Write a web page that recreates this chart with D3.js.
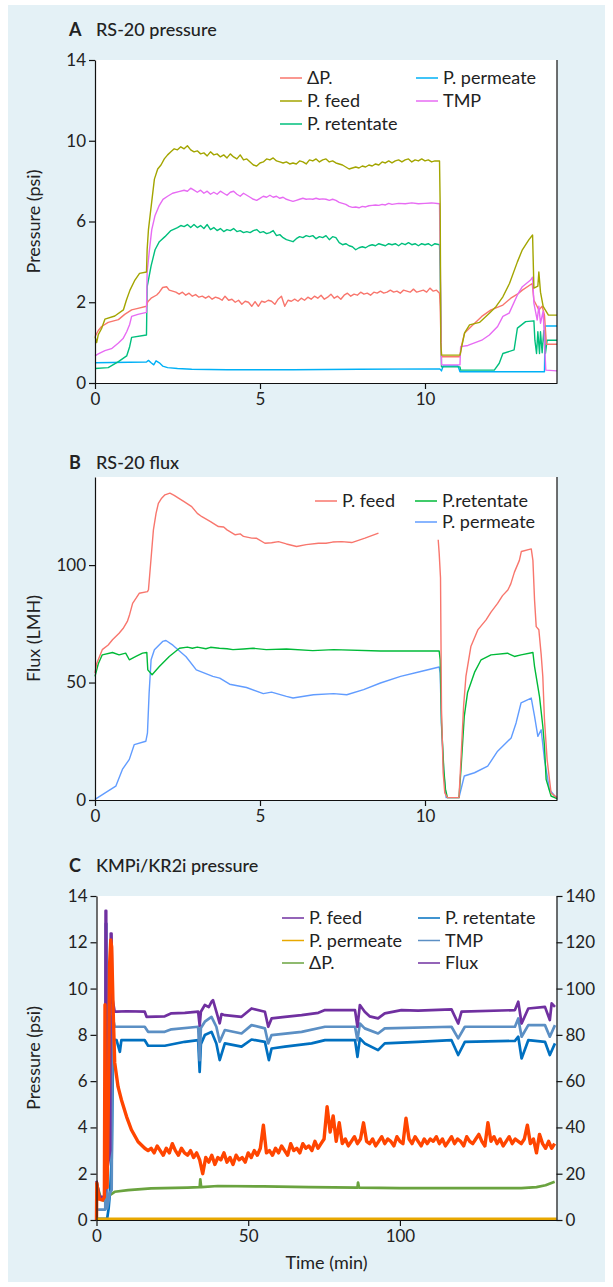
<!DOCTYPE html>
<html><head><meta charset="utf-8">
<script src="https://cdn.jsdelivr.net/npm/d3@7"></script>
<style>
html,body{margin:0;padding:0;background:#fff;}
text{font-family:Lato,"Open Sans",sans-serif;fill:#222;}
</style></head>
<body><svg id="c" width="613" height="1287"></svg>
<script>
// ---------- Panel A : RS-20 pressure (time h, psi) ----------
const aYTicks = [0, 2, 6, 10, 14];
const aXTicks = [0, 5, 10];
const aNames = ["ΔP.", "P. feed", "P. retentate", "P. permeate", "TMP"];
const aDP = [[0,1.15],[0.1,1.3],[0.2,1.4],[0.4,1.5],[0.71,1.57],[0.9,1.7],[1.11,1.81],[1.3,1.85],[1.56,1.9],[1.6,2.03],[1.7,2.2],[1.87,2.36],[1.95,2.5],[2.05,2.73],[2.17,2.77],[2.25,2.6],[2.35,2.55],[2.45,2.5],[2.55,2.4],[2.65,2.5],[2.75,2.35],[2.85,2.45],[2.95,2.3],[3.05,2.38],[3.15,2.25],[3.25,2.3],[3.35,2.2],[3.45,2.3],[3.55,2.15],[3.65,2.25],[3.75,2.2],[3.85,2.1],[3.94,2.3],[4.05,2.1],[4.15,2.15],[4.25,2.0],[4.35,2.1],[4.45,1.95],[4.55,2.05],[4.65,2.0],[4.75,1.9],[4.85,2.03],[4.95,1.9],[5.05,2.05],[5.15,2.0],[5.25,2.1],[5.35,2.05],[5.45,1.95],[5.55,2.15],[5.65,2.3],[5.75,1.9],[5.85,2.1],[5.95,2.05],[6.05,2.15],[6.15,2.05],[6.25,2.2],[6.35,2.1],[6.45,2.25],[6.55,2.15],[6.65,2.3],[6.75,2.2],[6.85,2.35],[6.95,2.15],[7.05,2.25],[7.15,2.4],[7.25,2.2],[7.35,2.3],[7.45,2.15],[7.55,2.35],[7.65,2.45],[7.75,2.3],[7.85,2.4],[7.95,2.35],[8.05,2.5],[8.15,2.4],[8.25,2.45],[8.35,2.35],[8.45,2.5],[8.55,2.45],[8.65,2.55],[8.75,2.45],[8.85,2.5],[8.95,2.6],[9.05,2.5],[9.15,2.55],[9.25,2.45],[9.35,2.6],[9.45,2.55],[9.55,2.5],[9.65,2.65],[9.75,2.5],[9.85,2.55],[9.95,2.6],[10.05,2.5],[10.15,2.7],[10.25,2.55],[10.35,2.6],[10.44,2.45],[10.46,1.9],[10.48,1.2],[10.5,0.65],[11.06,0.65],[11.1,0.9],[11.2,1.24],[11.4,1.4],[11.72,1.65],[12.0,1.81],[12.36,1.93],[12.6,2.2],[12.8,2.4],[12.95,2.6],[13.25,2.93],[13.3,2.1],[13.45,1.81],[13.55,1.9],[13.62,1.68],[13.68,0.96],[14,0.96]];
const aFeed = [[0,1.15],[0.05,1.0],[0.1,1.2],[0.2,1.35],[0.3,1.58],[0.6,1.66],[0.86,1.81],[0.95,2.1],[1.06,2.6],[1.21,3.1],[1.35,3.43],[1.56,3.5],[1.58,4.6],[1.62,5.6],[1.72,7.0],[1.8,8.1],[1.9,8.6],[2.0,8.8],[2.1,9.1],[2.2,9.3],[2.3,9.45],[2.4,9.6],[2.5,9.55],[2.6,9.7],[2.7,9.6],[2.8,9.75],[2.9,9.55],[3.0,9.45],[3.1,9.5],[3.2,9.35],[3.3,9.4],[3.4,9.25],[3.5,9.45],[3.6,9.3],[3.7,9.35],[3.8,9.2],[3.9,9.3],[4.0,9.15],[4.1,9.35],[4.2,9.2],[4.3,9.1],[4.4,9.3],[4.5,9.05],[4.6,9.1],[4.7,8.95],[4.8,8.8],[4.9,8.75],[5.0,8.9],[5.1,8.95],[5.2,9.1],[5.3,9.05],[5.4,9.15],[5.5,9.0],[5.6,8.95],[5.7,8.9],[5.8,8.95],[5.9,8.85],[6.0,8.9],[6.1,8.85],[6.2,9.0],[6.3,8.95],[6.4,8.85],[6.5,9.05],[6.6,9.0],[6.7,9.1],[6.8,8.95],[6.9,9.05],[7.0,9.1],[7.1,8.95],[7.2,9.0],[7.3,8.9],[7.4,8.85],[7.5,8.8],[7.6,8.7],[7.7,8.6],[7.8,8.65],[7.9,8.7],[8.0,8.65],[8.1,8.75],[8.2,8.7],[8.3,8.8],[8.4,8.75],[8.5,8.85],[8.6,8.8],[8.7,8.95],[8.8,8.9],[8.9,9.0],[9.0,8.9],[9.1,9.0],[9.2,9.05],[9.3,8.95],[9.4,9.05],[9.5,9.1],[9.6,8.95],[9.7,9.05],[9.8,9.0],[9.9,9.1],[10.0,9.0],[10.1,9.05],[10.2,8.95],[10.3,9.0],[10.44,9.0],[10.46,6.8],[10.48,1.0],[10.5,0.69],[11.06,0.69],[11.2,1.24],[11.35,1.44],[11.65,1.5],[11.95,1.73],[12.15,1.89],[12.36,2.27],[12.56,2.93],[12.8,4.0],[12.95,4.6],[13.15,5.1],[13.26,5.33],[13.3,2.7],[13.42,2.8],[13.45,3.5],[13.5,2.5],[13.58,1.9],[13.74,1.68],[14,1.68]];
const aRet = [[0,0.36],[0.4,0.38],[0.71,0.53],[0.96,0.67],[1.05,0.9],[1.11,1.13],[1.56,1.19],[1.58,2.76],[1.7,3.8],[1.82,4.6],[1.95,5.0],[2.12,5.25],[2.3,5.55],[2.5,5.7],[2.6,5.8],[2.7,5.75],[2.8,5.85],[2.9,5.7],[3.0,5.85],[3.1,5.7],[3.2,5.8],[3.3,5.65],[3.4,5.85],[3.5,5.6],[3.6,5.7],[3.7,5.55],[3.8,5.65],[3.9,5.5],[4.0,5.6],[4.1,5.55],[4.2,5.65],[4.3,5.5],[4.4,5.55],[4.5,5.45],[4.6,5.5],[4.7,5.45],[4.8,5.55],[4.9,5.6],[5.0,5.45],[5.1,5.5],[5.2,5.4],[5.3,5.45],[5.4,5.55],[5.5,5.3],[5.6,5.35],[5.7,5.2],[5.8,5.1],[5.9,5.05],[6.0,5.0],[6.1,5.15],[6.2,5.25],[6.3,5.2],[6.4,5.3],[6.5,5.25],[6.6,5.3],[6.7,5.15],[6.8,5.25],[6.9,5.2],[7.0,5.3],[7.1,5.1],[7.2,5.25],[7.3,5.2],[7.4,4.95],[7.5,4.85],[7.6,4.9],[7.7,4.8],[7.8,4.75],[7.9,4.6],[8.0,4.7],[8.1,4.75],[8.2,4.7],[8.3,4.8],[8.4,4.85],[8.5,4.8],[8.6,4.9],[8.7,4.85],[8.8,4.8],[8.9,4.9],[9.0,4.85],[9.1,4.9],[9.2,4.8],[9.3,4.92],[9.4,4.85],[9.5,4.95],[9.6,4.85],[9.7,4.9],[9.8,4.8],[9.9,4.9],[10.0,4.85],[10.1,4.9],[10.2,4.8],[10.3,4.9],[10.44,4.85],[10.46,3.6],[10.48,1.5],[10.5,0.4],[11.06,0.4],[11.08,0.32],[12.1,0.32],[12.25,0.49],[12.36,0.73],[12.7,0.82],[12.8,1.36],[13.05,1.52],[13.3,1.54],[13.33,1.06],[13.38,0.73],[13.42,1.27],[13.47,0.73],[13.5,1.27],[13.55,0.75],[13.6,1.3],[13.65,0.73],[13.7,1.06],[14,1.06]];
const aPerm = [[0,0.5],[1.56,0.52],[1.62,0.56],[1.7,0.5],[1.78,0.45],[1.85,0.55],[1.95,0.5],[2.05,0.42],[2.2,0.38],[2.5,0.36],[2.93,0.34],[4,0.33],[6,0.33],[8,0.34],[10.45,0.35],[10.5,0.3],[10.55,0.42],[11.0,0.42],[11.06,0.28],[13.62,0.28],[13.64,1.41],[14,1.41]];
const aTMP = [[0,0.67],[0.1,0.72],[0.3,0.8],[0.5,0.85],[0.71,0.99],[0.85,1.1],[0.96,1.27],[1.05,1.45],[1.11,1.65],[1.3,1.7],[1.56,1.75],[1.58,3.5],[1.65,4.6],[1.72,5.6],[1.82,6.3],[1.95,6.8],[2.06,7.1],[2.2,7.25],[2.35,7.4],[2.54,7.48],[2.7,7.55],[2.8,7.5],[2.9,7.65],[3.0,7.55],[3.1,7.45],[3.2,7.55],[3.3,7.4],[3.4,7.5],[3.5,7.35],[3.6,7.45],[3.7,7.35],[3.8,7.5],[3.9,7.4],[4.0,7.3],[4.1,7.45],[4.2,7.5],[4.3,7.35],[4.4,7.25],[4.5,7.4],[4.6,7.3],[4.7,7.2],[4.8,7.1],[4.9,7.05],[5.0,7.15],[5.1,7.25],[5.2,7.2],[5.3,7.3],[5.4,7.2],[5.5,7.25],[5.6,7.15],[5.7,7.2],[5.8,7.1],[5.9,7.05],[6.0,7.0],[6.1,7.05],[6.2,7.1],[6.3,7.15],[6.4,7.1],[6.5,7.12],[6.6,7.1],[6.7,7.15],[6.8,7.1],[6.9,7.12],[7.0,7.1],[7.1,7.05],[7.2,7.1],[7.3,7.05],[7.4,6.95],[7.5,6.9],[7.6,6.85],[7.7,6.75],[7.8,6.7],[7.9,6.72],[8.0,6.68],[8.1,6.75],[8.2,6.72],[8.3,6.78],[8.4,6.8],[8.5,6.82],[8.6,6.8],[8.7,6.85],[8.8,6.82],[8.9,6.9],[9.0,6.85],[9.2,6.9],[9.4,6.88],[9.6,6.92],[9.8,6.88],[10.0,6.9],[10.2,6.92],[10.44,6.88],[10.47,3.0],[10.5,0.45],[11.06,0.45],[11.08,0.9],[11.3,0.93],[11.72,1.06],[11.95,1.19],[12.2,1.4],[12.36,1.65],[12.55,1.73],[12.8,2.36],[12.95,2.77],[13.2,3.1],[13.26,3.24],[13.3,1.98],[13.4,1.56],[13.45,1.9],[13.5,1.48],[13.58,1.78],[13.66,0.32],[14,0.3]];

// ---------- Panel B : RS-20 flux (time h, LMH) ----------
const bYTicks = [0, 50, 100];
const bXTicks = [0, 5, 10];
const bNames = ["P. feed", "P.retentate", "P. permeate"];
const bFeed = [[0,54],[0.05,58],[0.22,64],[0.4,66],[0.53,68.2],[0.73,71],[0.85,73],[0.98,76],[1.05,79],[1.14,83.7],[1.25,86],[1.34,88],[1.59,88.7],[1.62,89.5],[1.7,103],[1.77,115],[1.85,122],[1.92,126.3],[2.02,128.5],[2.12,129.9],[2.27,130.6],[2.4,129.7],[2.53,128.5],[2.7,127],[2.93,124.9],[3.1,122],[3.24,120.6],[3.5,118.5],[3.74,116.4],[3.9,116.2],[4.0,115],[4.25,112.9],[4.4,113.3],[4.5,112.2],[4.75,111.5],[4.9,111.4],[5.15,109.3],[5.35,109.5],[5.56,110],[5.8,109],[6.11,107.9],[6.4,108.7],[6.77,109.3],[7.0,109.3],[7.2,109.8],[7.48,110],[7.78,109.6],[8.18,111.5],[8.59,113.6],null,[10.4,110.8],[10.43,105],[10.47,94.6],[10.5,38.5],[10.55,11.6],[10.6,3],[10.68,1],[11.03,1],[11.09,17.3],[11.17,40],[11.24,52.6],[11.39,65.3],[11.6,72.4],[11.85,76.7],[12.0,80],[12.2,83.7],[12.35,87],[12.51,89.4],[12.6,92],[12.71,97],[12.86,102],[12.92,105.8],[13.22,106.9],[13.27,102],[13.32,85],[13.37,73.8],[13.45,72.5],[13.52,62],[13.57,52.6],[13.62,34.2],[13.7,17.3],[13.82,3],[14.0,1]];
const bRet = [[0,52.6],[0.1,58],[0.22,61.8],[0.53,62.8],[0.73,61.8],[0.93,62.5],[1.04,59.7],[1.24,61.1],[1.44,62.5],[1.57,62.8],[1.6,55.4],[1.73,53.3],[1.95,56.8],[2.25,61.1],[2.56,64.6],[2.8,65.1],[2.95,64.6],[3.1,65.1],[3.36,64.4],[3.5,65.0],[3.77,64.6],[4.0,64.4],[4.18,64.0],[4.5,64.3],[4.79,64.6],[5.19,64.0],[5.8,64.3],[6.6,63.6],[7.23,64.0],[8.65,63.4],[10.43,63.4],[10.46,59.7],[10.5,32.8],[10.57,13],[10.62,4.5],[10.68,1],[11.03,1],[11.09,13],[11.19,35.6],[11.29,45.8],[11.5,54.3],[11.7,59.7],[12.0,61.8],[12.5,62.5],[12.71,61.1],[12.91,61.8],[13.27,62.8],[13.32,56.8],[13.47,44],[13.57,31.4],[13.62,23],[13.67,8.8],[13.82,1.7],[14.0,0.6]];
const bPerm = [[0,0.3],[0.32,3.1],[0.63,5.9],[0.83,13],[1.04,17.3],[1.19,23.6],[1.54,25],[1.59,28.6],[1.64,45.5],[1.7,59.7],[1.8,64],[2.05,67.5],[2.15,67.9],[2.36,65.9],[2.76,61],[3.07,55.4],[3.57,52.6],[3.78,51.9],[4.08,49.3],[4.59,47.9],[5.1,45.3],[5.35,45.9],[5.8,44.1],[6.0,43.4],[6.62,44.8],[7.23,45.3],[7.63,44.8],[8.14,47],[8.65,49.8],[9.26,52.6],[9.87,54.7],[10.43,56.6],[10.46,54],[10.5,31.4],[10.57,11.6],[10.64,1],[11.03,1],[11.19,10.2],[11.5,11.6],[11.9,14.4],[12.2,20.8],[12.61,26.4],[12.76,32.8],[12.91,41.3],[13.22,43.4],[13.32,35.6],[13.42,27.1],[13.52,29.9],[13.62,17.3],[13.77,4.5],[14.0,0.6]];

// ---------- Panel C : KMPi/KR2i pressure (time min, psi / flux) ----------
const cYTicks = [0, 2, 4, 6, 8, 10, 12, 14];
const cY2Ticks = [0, 20, 40, 60, 80, 100, 120, 140];
const cXTicks = [0, 50, 100];
const cNames = ["P. feed", "P. retentate", "P. permeate", "TMP", "ΔP.", "Flux"];
const cFeed = [[0,1.7],[1,1.0],[2.5,1.0],[2.9,1.3],[3.0,13.36],[3.2,13.36],[3.3,2.0],[4.5,3.0],[4.7,12.38],[4.95,12.38],[5.2,9.6],[6.0,9.0],[6.6,9.0],[10,9.02],[15.9,9.0],[16.5,8.78],[22.5,8.8],[24.7,8.93],[29.1,8.95],[33.5,9.0],[34.0,8.4],[34.4,9.0],[35.7,9.29],[37,9.2],[37.9,9.43],[38.4,9.5],[39.5,9.0],[40.6,8.5],[41.2,8.9],[42.3,8.85],[47.8,8.78],[51.1,9.14],[55.5,9.0],[56.6,8.35],[57.7,8.71],[62.1,8.78],[67.6,8.85],[73.1,8.95],[75.3,9.07],[85.2,9.07],[86.0,8.35],[86.8,9.29],[88.4,9.0],[90,8.8],[92.8,8.71],[95.0,8.93],[100.5,9.07],[106,9.05],[117,9.1],[119.2,8.49],[120.3,9.0],[137.9,9.07],[139,9.43],[140.1,8.49],[142.3,9.14],[147.8,9.21],[149.4,8.64],[150,9.36],[151.1,9.21]];
const cTMP = [[0,0.45],[2.9,0.45],[3.0,12.8],[3.3,12.8],[3.5,0.5],[4.5,1.2],[5,1.3],[5.3,8.8],[6.0,8.35],[15.9,8.35],[17.0,8.13],[22.5,8.13],[24.7,8.24],[33.5,8.35],[34.0,6.91],[34.4,8.3],[35.7,8.57],[37.9,8.78],[39.5,8.35],[40.6,7.7],[42.3,8.21],[47.8,8.06],[51.1,8.42],[55.5,8.28],[56.6,7.63],[57.7,7.99],[67.6,8.13],[75.3,8.35],[85.2,8.35],[86.0,7.77],[86.8,8.49],[88.4,8.28],[92.8,8.06],[95.0,8.28],[117,8.35],[119.2,7.85],[121.4,8.35],[137.9,8.35],[139,8.71],[140.1,7.92],[142.3,8.42],[147.8,8.42],[149.4,7.92],[151.1,8.42]];
const cRet = [[0,0.05],[3.5,0.05],[4.0,0.5],[4.5,1.3],[5.0,2.6],[5.5,7.8],[6.6,7.77],[7.7,7.27],[8.2,7.77],[15.9,7.77],[17.0,7.53],[22.5,7.53],[29.1,7.7],[33.5,7.77],[34.0,6.4],[34.4,7.6],[35.7,7.99],[37.9,8.13],[39.5,7.63],[40.6,6.91],[42.3,7.63],[47.8,7.49],[51.1,7.8],[55.5,7.7],[56.8,6.91],[57.7,7.41],[62.1,7.49],[70.9,7.63],[75.3,7.77],[85.2,7.77],[86.0,7.05],[86.8,7.85],[88.4,7.63],[92.8,7.34],[95.0,7.63],[106,7.7],[117,7.77],[119.2,7.13],[121.4,7.7],[137.9,7.74],[139,7.92],[140.1,6.98],[142.3,7.77],[147.8,7.7],[149.4,7.13],[151.1,7.63]];
const cPerm = [[0,0.05],[151.6,0.05]];
const cDP = [[0,1.6],[1.5,0.9],[3,0.8],[4.4,1.08],[6,1.22],[10.4,1.29],[18,1.37],[30,1.4],[34,1.42],[34.2,1.76],[34.5,1.42],[40,1.47],[55,1.45],[70,1.42],[86,1.4],[86.2,1.62],[86.5,1.4],[100,1.38],[120,1.38],[140,1.38],[145,1.42],[148,1.5],[151,1.65]];
const cFluxStart = [[0,0],[0.1,16],[0.5,12],[1,9],[2,8.6],[2.6,10],[2.8,93],[3.0,20],[3.5,14],[4.0,60],[4.3,110],[4.7,121],[5.0,118],[5.5,90],[6.0,68],[7.1,57.6],[8.2,52],[9.9,44.7],[11.5,39],[13.7,33.8],[15.9,31],[17,30]];
const cFluxT0 = 18; // following values one per minute
const cFluxV = [31,29,32,30,28,31,29,33,30,28,31,29,
28,30,27,29,26,20,27,25,28,24,27,26,29,25,27,24,28,26,27,25,
29,27,30,28,31,41,29,30,28,31,29,32,30,28,33,30,31,29,33,31,
32,30,34,31,33,35,49,38,45,34,42,33,35,32,34,36,33,35,42,34,
33,35,32,34,36,33,35,34,32,36,34,33,44,35,33,36,34,32,35,33,
35,34,36,33,35,32,34,36,33,35,34,32,36,34,33,35,37,34,32,42,
34,36,33,35,32,34,36,33,35,34,33,35,41,33,35,29,37,33,31,34,
31,33];

// ---------- drawing ----------
const svg = d3.select("#c");
svg.append("rect").attr("x", 8).attr("y", 5).attr("width", 597).attr("height", 1277).attr("fill", "#e4f1f6");

const FS = 17;
function title(y, letter, txt) {
  svg.append("text").attr("x", 69).attr("y", y).attr("font-size", 18).attr("font-weight", 700).text(letter);
  svg.append("text").attr("x", 96).attr("y", y).attr("font-size", 18).attr("font-weight", 500).text(txt);
}
function styleAxis(g) {
  g.selectAll("path.domain").attr("stroke", "#111").attr("stroke-width", 1.2);
  g.selectAll(".tick line").attr("stroke", "#111").attr("stroke-width", 1.2);
  g.selectAll(".tick text").attr("font-size", FS).attr("font-family", "Lato").attr("fill", "#222");
}
function drawLines(g, x, y, series, width) {
  const line = d3.line().defined(d => d !== null).x(d => x(d[0])).y(d => y(d[1]));
  series.forEach(s => {
    g.append("path").attr("d", line(s.data)).attr("fill", "none").attr("stroke", s.color)
      .attr("stroke-width", width).attr("stroke-linejoin", "round");
  });
}
// entries placed column by column (rows per column = nRows)
function legend(entries, nRows, x0, y0, colW, rowH, lineW) {
  entries.forEach((e, i) => {
    if (!e) return;
    const c = Math.floor(i / nRows), r = i % nRows;
    const x = x0 + c * colW, y = y0 + r * rowH;
    svg.append("line").attr("x1", x).attr("x2", x + lineW).attr("y1", y).attr("y2", y)
      .attr("stroke", e.color).attr("stroke-width", 1.5);
    svg.append("text").attr("x", x + lineW + 5).attr("y", y).attr("dy", "0.35em")
      .attr("font-size", 18).text(e.name);
  });
}

// Panel A
{
  const L = 95, R = 557, T = 60, B = 383;
  const x = d3.scaleLinear().domain([0, 14]).range([L, R]);
  const y = d3.scaleLinear().domain(aYTicks).range(aYTicks.map((d, i) => B - i * (B - T) / 4));
  svg.append("rect").attr("x", L).attr("y", T).attr("width", R - L).attr("height", B - T).attr("fill", "#fff");
  title(36, "A", "RS-20 pressure");
  const g = svg.append("g");
  const cols = { "ΔP.": "#F8766D", "P. feed": "#A3A500", "P. retentate": "#00BF7D", "P. permeate": "#00B0F6", "TMP": "#E76BF3" };
  drawLines(g, x, y, [
    { data: aPerm, color: cols["P. permeate"] },
    { data: aRet, color: cols["P. retentate"] },
    { data: aDP, color: cols["ΔP."] },
    { data: aTMP, color: cols["TMP"] },
    { data: aFeed, color: cols["P. feed"] }], 1.4);
  svg.append("line").attr("x1", R).attr("x2", R).attr("y1", T).attr("y2", B).attr("stroke", "#111").attr("stroke-width", 1.2);
  const gx = svg.append("g").attr("transform", `translate(0,${B})`).call(d3.axisBottom(x).tickValues(aXTicks).tickSize(6).tickSizeOuter(0).tickPadding(4));
  const gy = svg.append("g").attr("transform", `translate(${L},0)`).call(d3.axisLeft(y).tickValues(aYTicks).tickFormat(d3.format("d")).tickSize(6).tickSizeOuter(0).tickPadding(3));
  styleAxis(gx); styleAxis(gy);
  svg.append("text").attr("transform", `translate(40,${(T + B) / 2}) rotate(-90)`).attr("text-anchor", "middle").attr("font-size", 18).text("Pressure (psi)");
  legend(aNames.map(n => ({ name: n, color: cols[n] })), 3, 280, 78, 136, 23, 22);
}

// Panel B
{
  const L = 95, R = 557, T = 477, B = 800;
  const x = d3.scaleLinear().domain([0, 14]).range([L, R]);
  const y = d3.scaleLinear().domain([0, 137.5]).range([B, T]);
  svg.append("rect").attr("x", L).attr("y", T).attr("width", R - L).attr("height", B - T).attr("fill", "#fff");
  title(469, "B", "RS-20 flux");
  const cols = { "P. feed": "#F8766D", "P.retentate": "#00BA38", "P. permeate": "#619CFF" };
  const g = svg.append("g");
  drawLines(g, x, y, [
    { data: bPerm, color: cols["P. permeate"] },
    { data: bRet, color: cols["P.retentate"] },
    { data: bFeed, color: cols["P. feed"] }], 1.4);
  svg.append("line").attr("x1", R).attr("x2", R).attr("y1", T).attr("y2", B).attr("stroke", "#111").attr("stroke-width", 1.2);
  const gx = svg.append("g").attr("transform", `translate(0,${B})`).call(d3.axisBottom(x).tickValues(bXTicks).tickSize(6).tickSizeOuter(0).tickPadding(4));
  const gy = svg.append("g").attr("transform", `translate(${L},0)`).call(d3.axisLeft(y).tickValues(bYTicks).tickSize(6).tickSizeOuter(0).tickPadding(3));
  styleAxis(gx); styleAxis(gy);
  svg.append("text").attr("transform", `translate(40,${(T + B) / 2}) rotate(-90)`).attr("text-anchor", "middle").attr("font-size", 18).text("Flux (LMH)");
  const ents = [{ name: bNames[0], color: cols["P. feed"] }, null, { name: bNames[1], color: cols["P.retentate"] }, { name: bNames[2], color: cols["P. permeate"] }];
  legend(ents, 2, 315, 501, 100, 21, 22);
}

// Panel C
{
  const L = 96.5, R = 556.5, T = 896, B = 1220;
  const x = d3.scaleLinear().domain([0, 151.6]).range([L, R]);
  const y = d3.scaleLinear().domain([0, 14]).range([B, T]);
  const y2 = d3.scaleLinear().domain([0, 140]).range([B, T]);
  svg.append("rect").attr("x", L).attr("y", T).attr("width", R - L).attr("height", B - T).attr("fill", "#fff");
  title(872, "C", "KMPi/KR2i pressure");
  const cols = { "P. feed": "#7030A0", "P. retentate": "#0070C0", "P. permeate": "#E8A800", "TMP": "#5B8FC4", "ΔP.": "#6AA33F", "Flux": "#7030A0" };
  const g = svg.append("g");
  const fluxData = cFluxStart.concat(cFluxV.map((v, i) => [cFluxT0 + i, v]));
  const line2 = d3.line().x(d => x(d[0])).y(d => y2(d[1]));
  drawLines(g, x, y, [
    { data: cDP, color: cols["ΔP."] },
    { data: cRet, color: cols["P. retentate"] },
    { data: cTMP, color: cols["TMP"] },
    { data: cFeed, color: cols["P. feed"] }], 2.7);
  g.append("path").attr("d", line2(fluxData)).attr("fill", "none").attr("stroke", "#FF4500").attr("stroke-width", 3.4).attr("stroke-linejoin", "round");
  drawLines(g, x, y, [{ data: cPerm, color: cols["P. permeate"] }], 2.7);
  const gx = svg.append("g").attr("transform", `translate(0,${B})`).call(d3.axisBottom(x).tickValues(cXTicks).tickSize(6).tickSizeOuter(0).tickPadding(4));
  const gy = svg.append("g").attr("transform", `translate(${L},0)`).call(d3.axisLeft(y).tickValues(cYTicks).tickSize(6).tickSizeOuter(0).tickPadding(3));
  const gy2 = svg.append("g").attr("transform", `translate(${R},0)`).call(d3.axisRight(y2).tickValues(cY2Ticks).tickSize(6).tickSizeOuter(0).tickPadding(3));
  styleAxis(gx); styleAxis(gy); styleAxis(gy2);
  svg.append("text").attr("transform", `translate(40,${(T + B) / 2}) rotate(-90)`).attr("text-anchor", "middle").attr("font-size", 18).text("Pressure (psi)");
  svg.append("text").attr("x", (L + R) / 2).attr("y", 1269).attr("text-anchor", "middle").attr("font-size", 18).text("Time (min)");
  const ents = cNames.map(n => ({ name: n, color: cols[n] }));
  // column-major order: first column P. feed, P. permeate, ΔP.; second P. retentate, TMP, Flux
  legend([ents[0], ents[2], ents[4], ents[1], ents[3], ents[5]], 3, 282, 918, 136, 22.5, 22);
}
</script></body></html>
